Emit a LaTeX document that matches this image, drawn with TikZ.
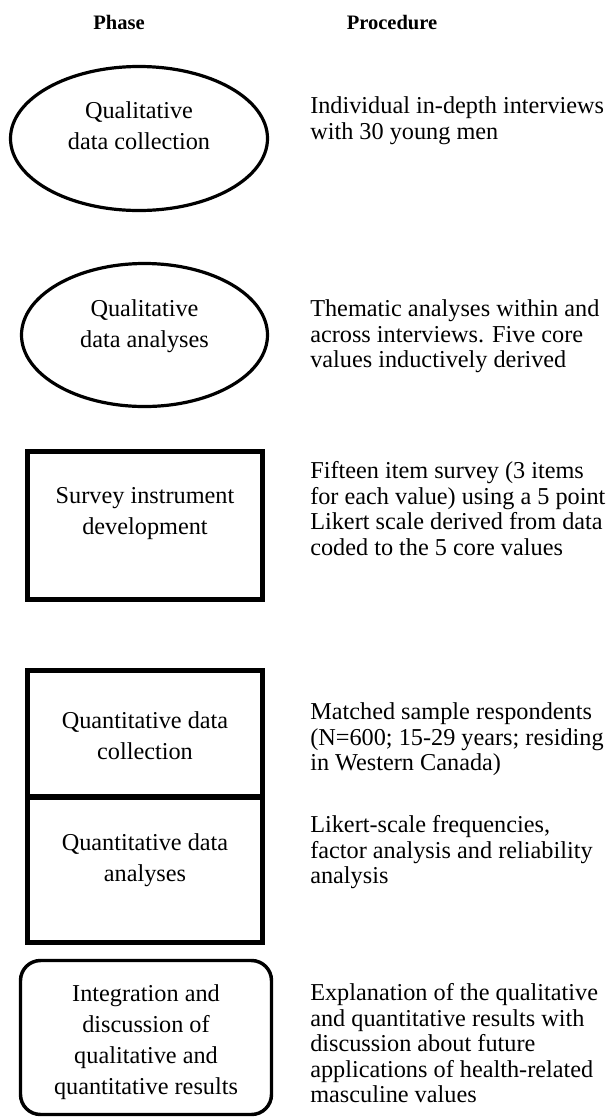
\documentclass[tikz,border=0pt]{standalone}
\usepackage{fontspec}
\setmainfont{Liberation Serif}
\usepackage{tikz}
\usetikzlibrary{shapes.geometric}

\newcommand{\phasefont}{\fontsize{18.2pt}{23.25pt}\selectfont}
\newcommand{\procfont}{\fontsize{18.2pt}{19.1pt}\selectfont}

\begin{document}
\begin{tikzpicture}[
            x = 0.75pt,
            y = -0.75pt,
            font = \phasefont,
            every label/.style = {align = center, anchor = center}
        ]

        \tikzstyle{phase}=[
            draw = black,
            minimum width = 176.25pt,
            inner sep = 0pt
        ]
        \tikzstyle{oval}=[phase, ellipse, line width = 2.4pt]
        \tikzstyle{box}=[phase, rectangle, line width = 4pt]
        \tikzstyle{rbox}=[phase, rectangle, rounded corners = 15pt, line width = 2.6pt]
        \tikzstyle{proc}=[anchor = north west, align = left, inner sep = 0pt, font = \procfont]
        \tikzstyle{head}=[anchor = base, font = \fontsize{15.4pt}{18pt}\selectfont\bfseries]

        \useasboundingbox (0,0) rectangle (611,1118);

        % column heads
        \node[head] (phase) at (119,29) {Phase};
        \node[head] (procedure) at (392,29) {Procedure};

        % phases
        \node[oval, minimum width = 192.75pt, minimum height = 108pt,
            label = {[yshift = 9.6pt]center:Qualitative\\data collection}] (qlcoll) at (139,138.5) {};
        \node[oval, minimum width = 184.5pt, minimum height = 107.25pt,
            label = {[yshift = 6.5pt]center:Qualitative\\data analyses}] (qlanal) at (144.5,335) {};
        \node[box, minimum height = 111pt,
            label = {[yshift = 8.7pt]center:Survey instrument\\development}] (instr) at (145,525.5) {};
        \node[box, minimum height = 94.9pt,
            label = {[yshift = -1.5pt]center:Quantitative data\\collection}] (qncoll) at (145,733.75) {};
        \node[box, minimum height = 109.1pt,
            label = {[yshift = 7pt]center:Quantitative data\\analyses}] (qnanal) at (145,869.75) {};
        \node[rbox, minimum width = 188.25pt, minimum height = 115.5pt,
            label = {[yshift = -3.3pt]center:Integration and\\discussion of\\qualitative and\\quantitative results}] (integr) at (146,1037.5) {};

        % procedures
        \node[proc] (interviews) at (310,96.5) {Individual in-depth interviews\\with 30 young men};
        \node[proc] (thematic) at (310,299.5) {Thematic analyses within and\\across interviews. Five core\\values inductively derived};
        \node[proc] (items) at (310,461.5) {Fifteen item survey (3 items\\for each value) using a 5 point\\Likert scale derived from data\\coded to the 5 core values};
        \node[proc] (sample) at (310,702.5) {Matched sample respondents\\(N=600; 15-29 years; residing\\in Western Canada)};
        \node[proc] (stats) at (310,815.5) {Likert-scale frequencies,\\factor analysis and reliability\\analysis};
        \node[proc] (explain) at (310,983.5) {Explanation of the qualitative\\and quantitative results with\\discussion about future\\applications of health-related\\masculine values};

    \end{tikzpicture}
\end{document}
